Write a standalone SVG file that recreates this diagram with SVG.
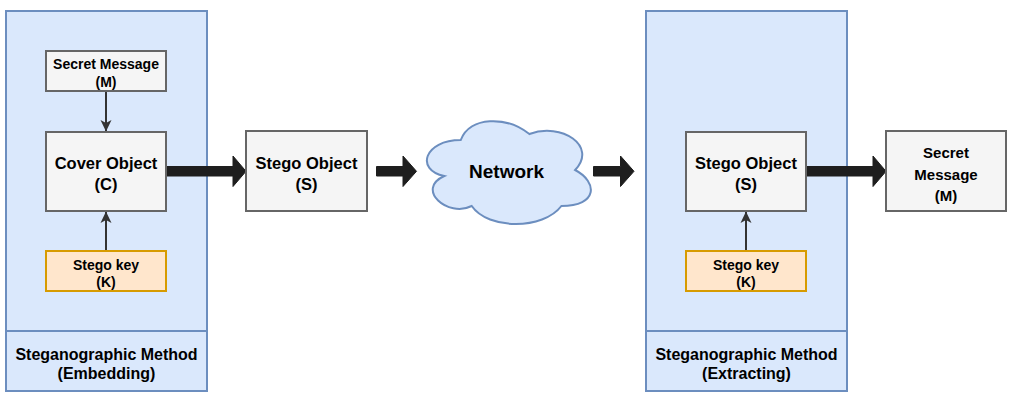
<svg xmlns="http://www.w3.org/2000/svg" width="1017" height="403" viewBox="0 0 1017 403">
<style>
.cont{fill:#dae8fc;stroke:#6c8ebf;stroke-width:2}
.box{fill:#f5f5f5;stroke:#666666;stroke-width:2}
.key{fill:#ffe6cc;stroke:#d79b00;stroke-width:2}
text{font-family:"Liberation Sans",Arial,sans-serif;font-weight:bold;fill:#000;text-anchor:middle}
.s14{font-size:14px}
.s15{font-size:15px}
.s16{font-size:16px}
.s165{font-size:16.5px}
.s19{font-size:19px}
.thin{stroke:#333333;stroke-width:2;fill:none}
.thick{fill:#1e1e1e;stroke:#1e1e1e;stroke-width:1;stroke-linejoin:miter}
</style>
<defs>
<marker id="arr" viewBox="0 0 12 12" refX="11" refY="6" markerWidth="12" markerHeight="12" markerUnits="userSpaceOnUse" orient="auto">
<path d="M0,0.5 L11.5,6 L0,11.5 L3,6 Z" fill="#333333"/>
</marker>
</defs>
<g id="embedding-container">
<rect class="cont" x="6" y="11" width="201" height="320"/>
<rect class="cont" x="6" y="331" width="201" height="60"/>
<text class="s16" x="106.5" y="360">Steganographic Method</text>
<text class="s16" x="106.5" y="378.5">(Embedding)</text>
</g>
<g id="extracting-container">
<rect class="cont" x="646" y="11" width="201" height="320"/>
<rect class="cont" x="646" y="331" width="201" height="60"/>
<text class="s16" x="746.5" y="360">Steganographic Method</text>
<text class="s16" x="746.5" y="378.5">(Extracting)</text>
</g>
<g id="connectors">
<line class="thin" x1="106" y1="91" x2="106" y2="131" marker-end="url(#arr)"/>
<line class="thin" x1="106" y1="251" x2="106" y2="212" marker-end="url(#arr)"/>
<line class="thin" x1="746" y1="251" x2="746" y2="212" marker-end="url(#arr)"/>
<polygon class="thick" points="167,166.5 233,166.5 233,156 246,171.3 233,186.5 233,176 167,176"/>
<polygon class="thick" points="376.5,166.5 403,166.5 403,156 416.5,171.3 403,186.5 403,176 376.5,176"/>
<polygon class="thick" points="593.5,166.5 620.5,166.5 620.5,156 634,171.3 620.5,186.5 620.5,176 593.5,176"/>
<polygon class="thick" points="807,166.5 873,166.5 873,156 886,171.3 873,186.5 873,176 807,176"/>
</g>
<g id="secret-message-in">
<rect class="box" x="46" y="51" width="120" height="40"/>
<text class="s14" x="106" y="68.5">Secret Message</text>
<text class="s14" x="106" y="86.5">(M)</text>
</g>
<g id="cover-object">
<rect class="box" x="46" y="132" width="120" height="79"/>
<text class="s165" x="106" y="169">Cover Object</text>
<text class="s165" x="106" y="190">(C)</text>
</g>
<g id="stego-key-embed">
<rect class="key" x="46" y="251" width="120" height="40"/>
<text class="s14" x="106" y="269.5">Stego key</text>
<text class="s14" x="106" y="286.5">(K)</text>
</g>
<g id="stego-object-mid">
<rect class="box" x="246" y="131" width="121" height="80"/>
<text class="s165" x="306.5" y="168.5">Stego Object</text>
<text class="s165" x="306.5" y="190">(S)</text>
</g>
<g id="network">
<path d="M 460.75 140 C 424.15 140 415 170 444.28 176 C 415 189.2 447.94 218 471.73 206 C 488.2 230 543.1 230 561.4 206 C 598 206 598 182 575.13 170 C 598 146 561.4 122 529.38 134 C 506.5 116 469.9 116 460.75 140 Z" fill="#dae8fc" stroke="#6c8ebf" stroke-width="2"/>
<text class="s19" x="506.5" y="178">Network</text>
</g>
<g id="stego-object-extract">
<rect class="box" x="686" y="132" width="120" height="79"/>
<text class="s165" x="746" y="168.5">Stego Object</text>
<text class="s165" x="746" y="190">(S)</text>
</g>
<g id="stego-key-extract">
<rect class="key" x="686" y="251" width="120" height="40"/>
<text class="s14" x="746" y="269.5">Stego key</text>
<text class="s14" x="746" y="286.5">(K)</text>
</g>
<g id="secret-message-out">
<rect class="box" x="886" y="131" width="120" height="80"/>
<text class="s15" x="946" y="158">Secret</text>
<text class="s15" x="946" y="179.5">Message</text>
<text class="s15" x="946" y="201">(M)</text>
</g>
</svg>
